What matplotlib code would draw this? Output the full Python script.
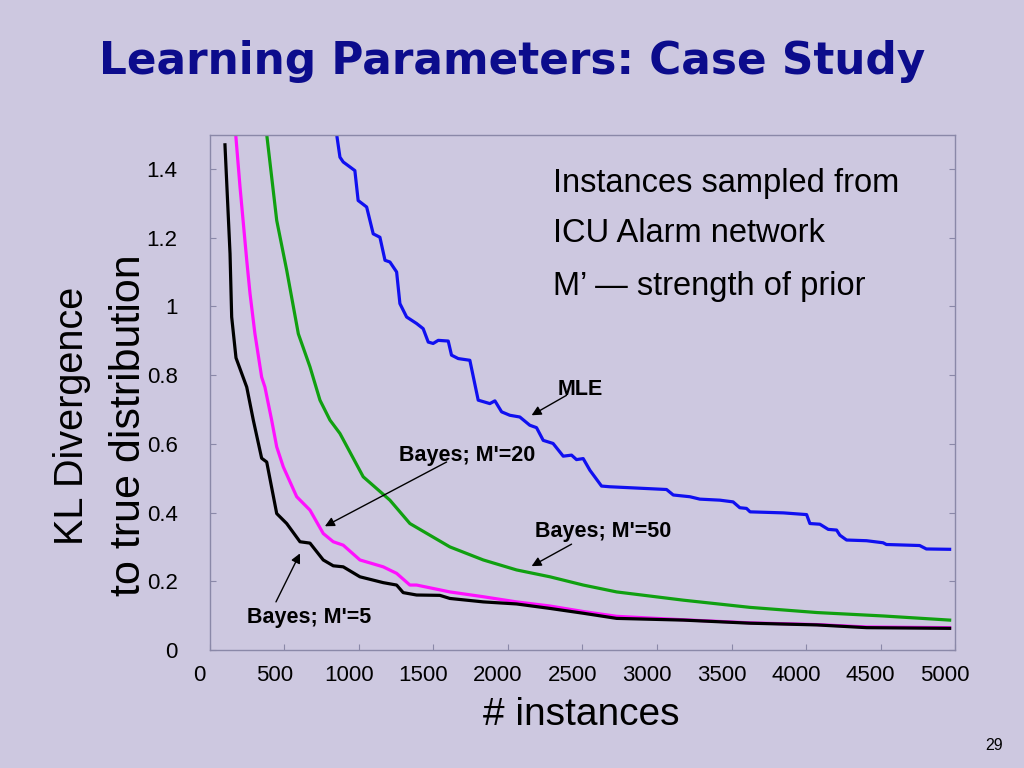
import matplotlib
matplotlib.use('Agg')
import matplotlib.pyplot as plt
import matplotlib.transforms as mtransforms

# data --------------------------------------------------------------
mle_x = [852, 874, 896, 974, 996, 1053, 1097, 1142, 1176, 1209, 1254, 1276, 1321, 1388, 1432,
         1466, 1499, 1533, 1600, 1622, 1667, 1745, 1801, 1879, 1913, 1958, 2013, 2080, 2147,
         2192, 2237, 2303, 2371, 2427, 2460, 2505, 2550, 2628, 2684, 3064, 3109, 3220, 3287,
         3421, 3510, 3555, 3600, 3624, 3847, 4003, 4025, 4092, 4148, 4204, 4226, 4271, 4405,
         4516, 4538, 4761, 4806, 4962]
mle_y = [1.50, 1.434, 1.42, 1.395, 1.308, 1.289, 1.211, 1.201, 1.134, 1.129, 1.10, 1.008, 0.969,
         0.95, 0.935, 0.896, 0.892, 0.901, 0.899, 0.858, 0.848, 0.843, 0.727, 0.717, 0.725,
         0.693, 0.683, 0.678, 0.654, 0.647, 0.610, 0.601, 0.564, 0.567, 0.554, 0.557, 0.523,
         0.477, 0.475, 0.467, 0.451, 0.446, 0.439, 0.436, 0.431, 0.414, 0.412, 0.402, 0.399,
         0.394, 0.368, 0.366, 0.351, 0.349, 0.334, 0.320, 0.318, 0.312, 0.307, 0.304, 0.294, 0.293]

m50_x = [383, 450, 517, 595, 673, 740, 807, 874, 1030, 1209, 1343, 1611, 1835, 2058, 2282, 2505,
         2729, 3176, 3624, 4071, 4518, 4962]
m50_y = [1.50, 1.25, 1.105, 0.92, 0.824, 0.727, 0.669, 0.63, 0.504, 0.436, 0.368, 0.300, 0.262,
         0.233, 0.213, 0.189, 0.169, 0.145, 0.124, 0.109, 0.099, 0.087]

m20_x = [175, 204, 249, 271, 304, 349, 371, 416, 450, 494, 584, 673, 762, 829, 896, 1008, 1164,
         1254, 1343, 1388, 1611, 1835, 2058, 2282, 2505, 2729, 2953, 3176, 3624, 4071, 4406, 4962]
m20_y = [1.50, 1.347, 1.134, 1.037, 0.92, 0.794, 0.765, 0.669, 0.591, 0.533, 0.446, 0.407, 0.339,
         0.315, 0.305, 0.262, 0.242, 0.223, 0.189, 0.189, 0.169, 0.155, 0.140, 0.128, 0.112,
         0.098, 0.093, 0.088, 0.079, 0.074, 0.067, 0.065]

m5_x = [103, 137, 148, 177, 249, 293, 349, 383, 450, 517, 606, 673, 762, 829, 896, 1008, 1164,
        1254, 1298, 1388, 1544, 1611, 1835, 2058, 2282, 2505, 2729, 3176, 3624, 4071, 4406, 4962]
m5_y = [1.47, 1.153, 0.969, 0.85, 0.765, 0.669, 0.558, 0.547, 0.397, 0.368, 0.315, 0.311, 0.262,
        0.245, 0.242, 0.213, 0.196, 0.189, 0.167, 0.160, 0.159, 0.150, 0.140, 0.134, 0.121,
        0.107, 0.092, 0.087, 0.078, 0.073, 0.065, 0.063]

xticks = list(range(0, 5001, 500))
yticks = [0, 0.2, 0.4, 0.6, 0.8, 1.0, 1.2, 1.4]
ytick_labels = ['0', '0.2', '0.4', '0.6', '0.8', '1', '1.2', '1.4']

bg = '#cdc8e0'
spine = '#8a88a8'
font = 'Liberation Sans'

fig = plt.figure(figsize=(10.24, 7.68), dpi=100, facecolor=bg)
ax = fig.add_axes([209.6/1024, 118/768, (955.3-209.6)/1024, (650-134.5)/768])
ax.set_facecolor(bg)

ax.plot(mle_x, mle_y, color='#1010f0', lw=2.3)
ax.plot(m50_x, m50_y, color='#10a010', lw=2.3)
ax.plot(m20_x, m20_y, color='#ff10ff', lw=2.3)
ax.plot(m5_x, m5_y, color='black', lw=2.3)

ax.set_xlim(0, 5000); ax.set_ylim(0, 1.5)
ax.set_xticks(xticks)
ax.set_xticklabels([str(v) for v in xticks], fontsize=16, family=font)
ax.set_yticks(yticks)
ax.set_yticklabels(ytick_labels, fontsize=16, family=font)
for s in ax.spines.values():
    s.set_color(spine); s.set_linewidth(1)
ax.tick_params(axis='x', direction='in', length=4, color=spine, pad=11)
ax.tick_params(axis='y', direction='in', length=4, color=spine, pad=23, right=True)
# excel-style labels sit a bit left of their ticks
shift = mtransforms.ScaledTranslation(-10/100, 0, fig.dpi_scale_trans)
for lab in ax.get_xticklabels():
    lab.set_transform(lab.get_transform() + shift)

# annotations
def note(txt, txy, tail, head):
    ax.text(txy[0], txy[1], txt, ha='center', va='center', fontsize=15.5, fontweight='bold', family=font)
    ax.annotate('', xy=head, xytext=tail,
                arrowprops=dict(arrowstyle='-|>', lw=1, color='black', mutation_scale=14,
                                shrinkA=0, shrinkB=0))

note('MLE', (2488, 0.759), (2393, 0.741), (2159, 0.683))
note("Bayes; M'=20", (1728, 0.567), (1589, 0.547), (773, 0.360))
note("Bayes; M'=50", (2637, 0.346), (2427, 0.308), (2159, 0.244))
note("Bayes; M'=5", (666, 0.096), (445, 0.140), (606, 0.281))

# slide texts (pixel positions -> figure fraction)
def ftext(x, y, s, **kw):
    fig.text(x/1024, 1 - y/768, s, **kw)

ftext(512.5, 74, 'Learning Parameters: Case Study', ha='center', va='baseline',
      fontsize=31.5, fontweight='bold', color='#0c0c8c', family='DejaVu Sans')
ftext(553, 191.7, 'Instances sampled from', ha='left', va='baseline', fontsize=23.5, family=font)
ftext(553, 241.7, 'ICU Alarm network', ha='left', va='baseline', fontsize=23.5, family=font)
ftext(553, 295, 'M\u2019 \u2014 strength of prior', ha='left', va='baseline', fontsize=23.5, family=font)
ftext(581, 725, '# instances', ha='center', va='baseline', fontsize=28, family=font)
ftext(83, 416, 'KL Divergence', ha='center', va='baseline', rotation=90, rotation_mode='anchor',
      fontsize=28.5, family=font)
ftext(140, 425, 'to true distribution', ha='center', va='baseline', rotation=90, rotation_mode='anchor',
      fontsize=31, family=font)
ftext(1003, 750, '29', ha='right', va='baseline', fontsize=11.5, family=font)

fig.savefig('out.png', dpi=100, facecolor=bg)
